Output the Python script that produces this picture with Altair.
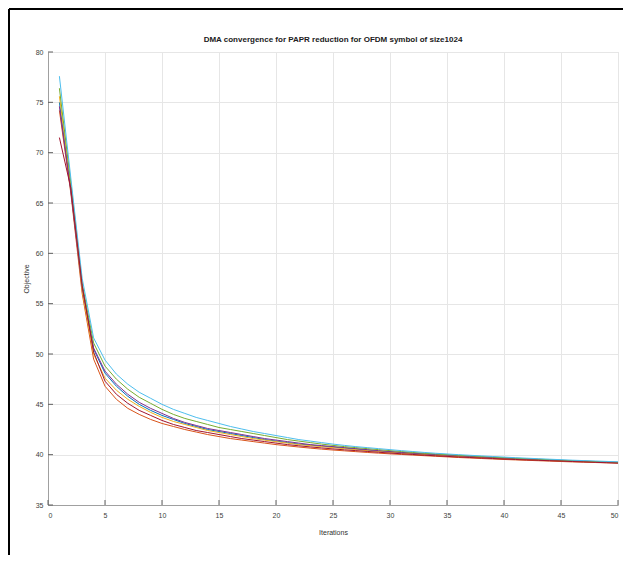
import altair as alt
import pandas as pd

iterations = list(range(1, 51))
x_ticks = [0, 5, 10, 15, 20, 25, 30, 35, 40, 45, 50]
y_ticks = [35, 40, 45, 50, 55, 60, 65, 70, 75, 80]
title_text = "DMA convergence for PAPR reduction for OFDM symbol of size1024"

run_blue = [75.0, 66.3, 56.5, 50.5, 48.1, 46.8, 45.8, 45.0, 44.4, 43.9, 43.5, 43.1, 42.8, 42.5, 42.3, 42.1, 41.9, 41.7, 41.5, 41.35, 41.2, 41.05, 40.95, 40.85, 40.75, 40.65, 40.55, 40.45, 40.35, 40.27, 40.2, 40.12, 40.05, 39.98, 39.92, 39.86, 39.8, 39.74, 39.69, 39.64, 39.59, 39.54, 39.49, 39.44, 39.4, 39.36, 39.32, 39.28, 39.24, 39.2]
run_orange = [74.2, 66.0, 56.0, 49.5, 46.8, 45.5, 44.6, 44.0, 43.5, 43.1, 42.8, 42.5, 42.25, 42.0, 41.8, 41.6, 41.45, 41.3, 41.15, 41.0, 40.88, 40.76, 40.65, 40.55, 40.46, 40.38, 40.3, 40.22, 40.15, 40.08, 40.02, 39.96, 39.9, 39.84, 39.78, 39.72, 39.67, 39.62, 39.57, 39.52, 39.48, 39.44, 39.4, 39.36, 39.32, 39.28, 39.25, 39.22, 39.19, 39.16]
run_yellow = [75.6, 66.8, 56.3, 50.0, 47.6, 46.4, 45.5, 44.8, 44.2, 43.7, 43.3, 43.0, 42.7, 42.4, 42.2, 42.0, 41.8, 41.6, 41.45, 41.3, 41.15, 41.0, 40.9, 40.8, 40.7, 40.6, 40.5, 40.4, 40.32, 40.24, 40.16, 40.09, 40.02, 39.96, 39.9, 39.84, 39.78, 39.73, 39.68, 39.63, 39.58, 39.53, 39.48, 39.44, 39.4, 39.36, 39.32, 39.28, 39.24, 39.2]
run_purple = [74.6, 66.2, 56.6, 50.6, 48.3, 47.0, 46.0, 45.2, 44.6, 44.1, 43.6, 43.2, 42.9, 42.6, 42.4, 42.2, 42.0, 41.8, 41.6, 41.45, 41.3, 41.15, 41.0, 40.9, 40.8, 40.7, 40.6, 40.5, 40.4, 40.31, 40.23, 40.15, 40.08, 40.01, 39.95, 39.89, 39.83, 39.77, 39.72, 39.67, 39.62, 39.57, 39.52, 39.47, 39.43, 39.39, 39.35, 39.31, 39.27, 39.23]
run_green = [76.4, 67.0, 57.0, 51.1, 48.8, 47.5, 46.5, 45.7, 45.1, 44.5, 44.0, 43.6, 43.3, 43.0, 42.7, 42.5, 42.3, 42.1, 41.9, 41.7, 41.5, 41.35, 41.2, 41.05, 40.92, 40.8, 40.7, 40.6, 40.5, 40.4, 40.31, 40.22, 40.14, 40.07, 40.0, 39.94, 39.88, 39.82, 39.76, 39.7, 39.65, 39.6, 39.55, 39.5, 39.45, 39.4, 39.36, 39.32, 39.28, 39.24]
run_cyan = [77.6, 67.5, 57.5, 51.6, 49.4, 48.0, 47.0, 46.2, 45.6, 45.0, 44.5, 44.1, 43.7, 43.4, 43.1, 42.8, 42.55, 42.3, 42.1, 41.9, 41.7, 41.5, 41.35, 41.2, 41.05, 40.92, 40.8, 40.7, 40.6, 40.5, 40.4, 40.31, 40.22, 40.14, 40.07, 40.0, 39.94, 39.88, 39.82, 39.76, 39.7, 39.65, 39.6, 39.55, 39.5, 39.45, 39.41, 39.37, 39.33, 39.29]
run_darkred = [71.5, 66.5, 56.8, 50.2, 47.3, 46.0, 45.1, 44.4, 43.9, 43.4, 43.0, 42.7, 42.4, 42.2, 42.0, 41.8, 41.6, 41.45, 41.3, 41.15, 41.0, 40.88, 40.77, 40.67, 40.57, 40.48, 40.4, 40.32, 40.24, 40.16, 40.09, 40.02, 39.95, 39.89, 39.83, 39.77, 39.72, 39.67, 39.62, 39.57, 39.52, 39.48, 39.44, 39.4, 39.36, 39.32, 39.28, 39.24, 39.2, 39.16]

series = [
    ("Run 1", run_blue), ("Run 2", run_orange), ("Run 3", run_yellow),
    ("Run 4", run_purple), ("Run 5", run_green), ("Run 6", run_cyan),
    ("Run 7", run_darkred),
]
colors = ["#0072BD", "#D95319", "#EDB120", "#7E2F8E", "#77AC30", "#4DBEEE", "#A2142F"]

frames = []
for i, (name, vals) in enumerate(series):
    d = pd.DataFrame({"it": iterations, "v": vals})
    d["run"] = name
    d["order"] = i
    frames.append(d)
df = pd.concat(frames, ignore_index=True)

W, H = 570, 453

xs = alt.Scale(domain=[0, 50], nice=False)
ys = alt.Scale(domain=[35, 80], nice=False)

lines = alt.Chart(df).mark_line(strokeWidth=1, clip=True).encode(
    x=alt.X("it:Q", scale=xs, title="Iterations",
            axis=alt.Axis(values=x_ticks, format="d", ticks=False, grid=True,
                          gridColor="#e6e6e6", domainColor="#a0a0a0",
                          labelFontSize=7, labelColor="#404040", labelPadding=6,
                          titleFontSize=7, titleColor="#303030", titleFontWeight="normal",
                          titlePadding=10)),
    y=alt.Y("v:Q", scale=ys, title="Objective",
            axis=alt.Axis(values=y_ticks, format="d", ticks=False, grid=True,
                          gridColor="#e6e6e6", domainColor="#a0a0a0",
                          labelFontSize=7, labelColor="#404040", labelPadding=5,
                          titleFontSize=7, titleColor="#303030", titleFontWeight="normal",
                          titlePadding=6)),
    color=alt.Color("run:N", scale=alt.Scale(domain=[s[0] for s in series], range=colors), legend=None),
    order="order:Q",
)

xt = pd.DataFrame({"t": x_ticks})
yt = pd.DataFrame({"t": y_ticks})
xtick_marks = alt.Chart(xt).mark_rule(color="#606060", strokeWidth=1).encode(
    x=alt.X("t:Q", scale=xs), y=alt.value(H), y2=alt.value(H - 5))
ytick_marks = alt.Chart(yt).mark_rule(color="#606060", strokeWidth=1).encode(
    y=alt.Y("t:Q", scale=ys), x=alt.value(0), x2=alt.value(5))

frame_top = alt.Chart(xt).mark_rule(color="black", strokeWidth=2).encode(
    x=alt.value(-39), x2=alt.value(600), y=alt.value(-43))
frame_left = alt.Chart(xt).mark_rule(color="black", strokeWidth=2).encode(
    x=alt.value(-39), y=alt.value(-43), y2=alt.value(540))

title_mark = alt.Chart(pd.DataFrame({"t": [title_text]})).mark_text(
    fontSize=8, fontWeight="bold", color="#202020", align="center", baseline="bottom",
    font="Liberation Sans").encode(
    text="t:N", x=alt.value(W / 2), y=alt.value(-8))

chart = alt.layer(lines, xtick_marks, ytick_marks, frame_top, frame_left, title_mark).properties(
    width=W, height=H,
    autosize=alt.AutoSizeParams(type="none"),
    padding={"left": 40, "top": 44, "right": 5, "bottom": 50},
).configure_view(stroke=None).configure(font="Liberation Sans")

chart.save("out.html", embed_options={"renderer": "svg", "actions": False})
